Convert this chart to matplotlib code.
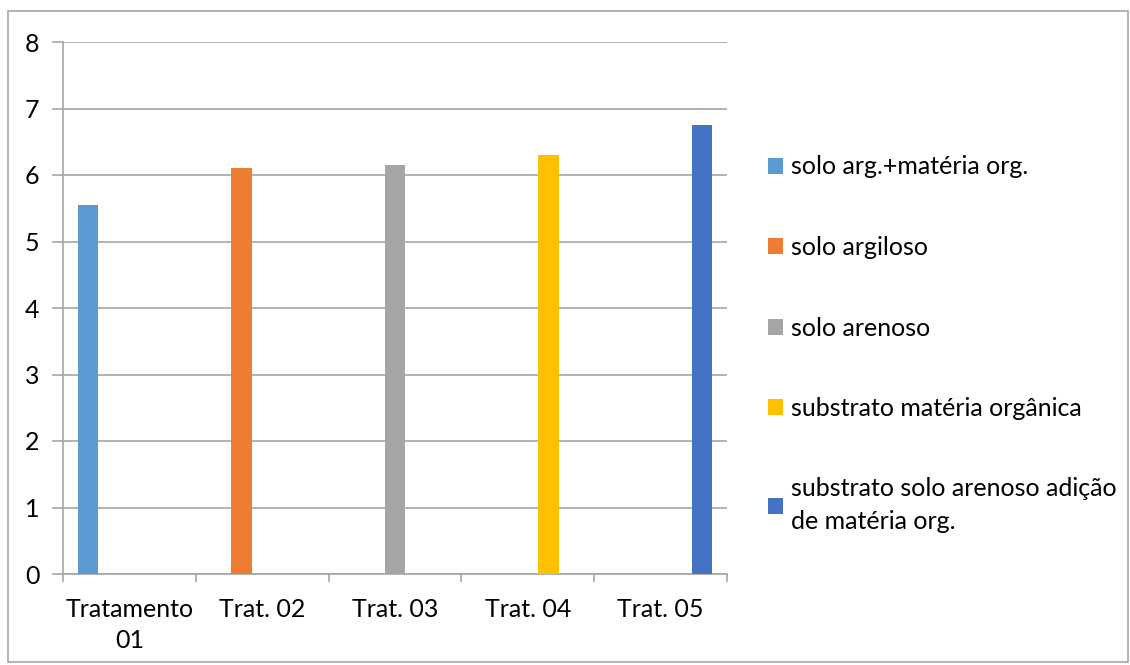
import matplotlib.pyplot as plt
import numpy as np
from matplotlib.patches import Rectangle

# data
categories = ["Tratamento\n01", "Trat. 02", "Trat. 03", "Trat. 04", "Trat. 05"]
series_names = [
    "solo arg.+matéria org.",
    "solo argiloso",
    "solo arenoso",
    "substrato matéria orgânica",
    "substrato solo arenoso adição\nde matéria org.",
]
values = [5.55, 6.1, 6.15, 6.3, 6.75]
colors = ["#5B9BD5", "#ED7D31", "#A5A5A5", "#FFC000", "#4472C4"]

plt.rcParams["font.family"] = ["Lato", "DejaVu Sans"]
fs = 18

fig = plt.figure(figsize=(11.3, 6.65), dpi=100)
ax = fig.add_axes([63 / 1130, 91 / 665, 664 / 1130, 532 / 665])

# clustered bars: each series only has a value in its own category
n = len(series_names)
w = 0.156
x = np.arange(len(categories))
for j in range(n):
    ax.bar(x[j] + (j - (n - 1) / 2) * w, values[j], width=w, color=colors[j],
           label=series_names[j], zorder=3)

ax.set_xlim(-0.5, len(categories) - 0.5)
ax.set_ylim(0, 8)
ax.set_yticks(range(0, 9))
ax.yaxis.grid(True, color="#a6a6a6", linewidth=1.2, zorder=0)
ax.tick_params(axis="y", length=8, color="#a6a6a6", width=1.2, labelsize=fs, pad=9)

ax.set_xticks(x)
ax.set_xticklabels(categories, fontsize=fs, linespacing=1.45)
ax.tick_params(axis="x", which="major", length=0, pad=17)
ax.set_xticks(np.arange(-0.5, len(categories)), minor=True)
ax.tick_params(axis="x", which="minor", length=6, color="#a6a6a6", width=1.2)

for s in ["top", "right"]:
    ax.spines[s].set_visible(False)
ax.spines["left"].set_color("#a6a6a6")
ax.spines["bottom"].set_color("#a6a6a6")
ax.spines["left"].set_linewidth(1.2)
ax.spines["bottom"].set_linewidth(1.2)

leg = fig.legend(loc="upper left", bbox_to_anchor=(745 / 1130, 1 - 133 / 665),
                 frameon=False, fontsize=fs, handlelength=0.6, handleheight=0.6,
                 handletextpad=0.35, labelspacing=2.3)
for t in leg.get_texts():
    t.set_linespacing(1.5)

# chart area border
fig.patches.append(Rectangle((8 / 1130, 3 / 665), 1120 / 1130, 651 / 665,
                             transform=fig.transFigure, fill=False,
                             edgecolor="#a6a6a6", linewidth=1.2))

fig.savefig("out.png", dpi=100)
